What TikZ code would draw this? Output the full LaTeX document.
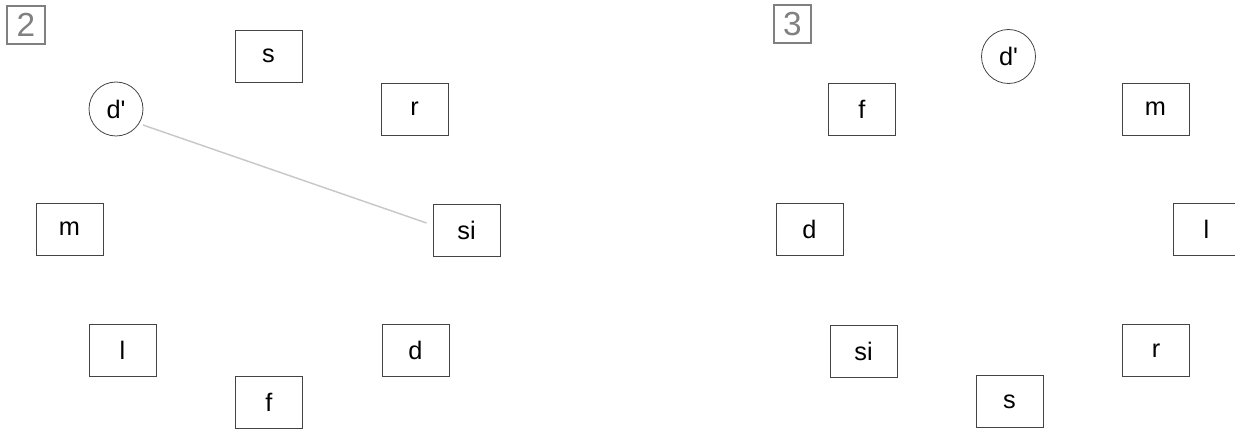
\documentclass[tikz,border=0pt]{standalone}
\usepackage{fontspec}
\setmainfont{Liberation Sans}
\usetikzlibrary{calc}
\definecolor{boxline}{HTML}{444444}
\definecolor{labgray}{HTML}{808080}
\definecolor{conngray}{HTML}{C8C8C8}
\tikzset{
  notebox/.style={draw=boxline, line width=0.7pt, minimum width=50.25pt, minimum height=39pt, inner sep=0pt, font=\fontsize{19}{21}\selectfont, text=black},
  notecirc/.style={draw=boxline, line width=0.6pt, circle, minimum size=40.5pt, inner sep=0pt, font=\fontsize{19}{21}\selectfont, text=black},
  panellab/.style={draw=labgray, line width=1.3pt, minimum size=28pt, inner sep=0pt, font=\fontsize{25}{27}\selectfont, text=labgray},
  conn/.style={draw=conngray, line width=1.1pt}
}
\begin{document}
\begin{tikzpicture}[x=0.75pt, y=-0.75pt]
\useasboundingbox (0,0) rectangle (1235,431);
\clip (0,0) rectangle (1235,431);
% panel 2
\node[panellab] (lab2) at (26,25) {2};
\node[notebox] (s2) at (268.5,56) {s};
\node[notecirc] (dp2) at (116,109) {d\textquotesingle};
\node[notebox] (r2) at (414.5,109) {r};
\node[notebox] (si2) at (466.5,230) {si};
\node[notebox] (m2) at (69.5,229) {m};
\node[notebox] (l2) at (122.5,350) {l};
\node[notebox] (d2) at (415.5,350) {d};
\node[notebox] (f2) at (269,402) {f};
\draw[conn] ($(dp2.center)+(27,16)$) -- ($(si2.west)+(-6,-7)$);
% panel 3
\node[panellab] (lab3) at (792.5,24) {3};
\node[notecirc] (dp3) at (1008.5,56.5) {d\textquotesingle};
\node[notebox] (f3) at (862,109.5) {f};
\node[notebox] (m3) at (1155.5,109) {m};
\node[notebox] (d3) at (809.5,229) {d};
\node[notebox] (l3) at (1206.5,229.5) {l};
\node[notebox] (si3) at (863.5,351) {si};
\node[notebox] (r3) at (1156,350.5) {r};
\node[notebox] (s3) at (1009.5,401.5) {s};
\end{tikzpicture}
\end{document}
